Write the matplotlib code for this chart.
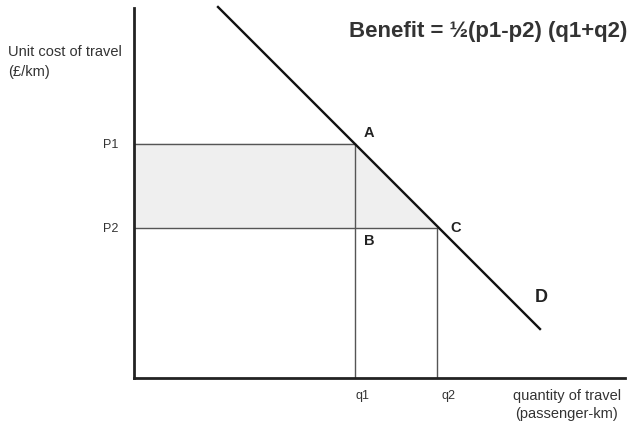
import numpy as np
import matplotlib.pyplot as plt

plt.rcParams['font.family'] = ['Liberation Sans', 'DejaVu Sans']

# Prices and quantities (arbitrary units, 1 unit = 100 px in the reference)
p1, p2 = 2.34, 1.50
q1, q2 = 2.21, 3.03

# Demand curve p = a - b*q
demand_a, demand_b = 4.55, 1.0
demand_q = np.array([0.84, 4.06])

price_labels = ['P1', 'P2']
quantity_labels = ['q1', 'q2']

fig = plt.figure(figsize=(6.38, 4.26), dpi=100)
ax = fig.add_axes([134 / 638, 48 / 426, 491 / 638, 370 / 426])
ax.set_xlim(0, 4.91)
ax.set_ylim(0, 3.70)

# Shaded benefit area
ax.fill([0, q1, q2, 0], [p1, p1, p2, p2], color='#efefef', zorder=1)

# Guide lines
line_kw = dict(color='#555555', lw=1.0, zorder=2)
ax.plot([0, q1], [p1, p1], **line_kw)
ax.plot([0, q2], [p2, p2], **line_kw)
ax.plot([q1, q1], [0, p1], **line_kw)
ax.plot([q2, q2], [0, p2], **line_kw)

# Demand line
ax.plot(demand_q, demand_a - demand_b * demand_q, color='#111111', lw=1.7,
        zorder=3, clip_on=False)

# Axes
for s in ['top', 'right']:
    ax.spines[s].set_visible(False)
for s in ['left', 'bottom']:
    ax.spines[s].set_linewidth(2.0)
    ax.spines[s].set_color('#222222')
ax.set_xticks([])
ax.set_yticks([])

# Tick-like labels
for lab, p in zip(price_labels, [p1, p2]):
    ax.text(-0.16, p - 0.01, lab, ha='right', va='center', fontsize=9, color='#333333')
ax.text(q1 + 0.075, -0.18, quantity_labels[0], ha='center', va='center', fontsize=9, color='#333333')
ax.text(q2 + 0.12, -0.18, quantity_labels[1], ha='center', va='center', fontsize=9, color='#333333')

# Point labels
pt_kw = dict(ha='center', va='center', fontsize=10.5, fontweight='bold', color='#222222')
ax.text(q1 + 0.14, p1 + 0.11, 'A', **pt_kw)
ax.text(q1 + 0.14, p2 - 0.13, 'B', **pt_kw)
ax.text(q2 + 0.19, p2, 'C', **pt_kw)
ax.text(4.07, 0.81, 'D', ha='center', va='center', fontsize=13, fontweight='bold', color='#222222')

# Axis titles
fig.text(8 / 638, 1 - 62 / 426, 'Unit cost of travel\n(£/km)', ha='left', va='center',
         fontsize=10.5, color='#333333', linespacing=1.5)
fig.text(567 / 638, 1 - 405 / 426, 'quantity of travel\n(passenger-km)', ha='center', va='center',
         fontsize=10.5, color='#333333', linespacing=1.4)

# Formula
fig.text(488 / 638, 1 - 31 / 426, 'Benefit = ½(p1-p2) (q1+q2)', ha='center', va='center',
         fontsize=16, fontweight='bold', color='#333333')

fig.savefig('out.png', dpi=100)
